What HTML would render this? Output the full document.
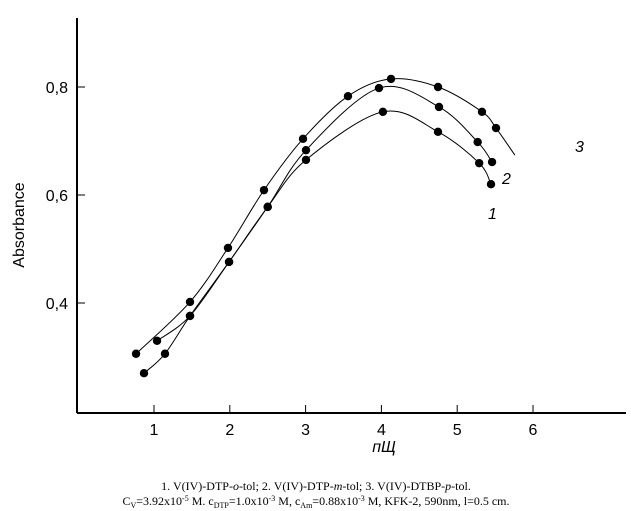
<!DOCTYPE html>
<html><head><meta charset="utf-8"><style>
html,body{margin:0;padding:0;background:#fff;}
svg{display:block;}
.t{font-family:"Liberation Sans",sans-serif;font-size:16px;fill:#000;}
.c{font-family:"Liberation Serif",serif;font-size:12px;fill:#000;}
</style></head><body>
<svg id="ch" width="631" height="511">
<line x1="77" y1="18" x2="77" y2="413" stroke="#000" stroke-width="2"/>
<line x1="77" y1="413" x2="626" y2="413" stroke="#000" stroke-width="2"/>
<text class="t" transform="translate(24,225) rotate(-90)" text-anchor="middle">Absorbance</text>
<text class="t" x="384" y="452" text-anchor="middle" font-style="italic" font-size="18">пЩ</text>
<text class="t" x="575" y="152" font-style="italic">3</text>
<text class="t" x="502" y="184" font-style="italic">2</text>
<text class="t" x="488" y="219" font-style="italic">1</text>
<text class="c" x="316" y="490" text-anchor="middle">1. V(IV)-DTP-<tspan font-style="italic">o</tspan>-tol; 2. V(IV)-DTP-<tspan font-style="italic">m</tspan>-tol; 3. V(IV)-DTBP-<tspan font-style="italic">p</tspan>-tol.</text>
<text class="c" x="316" y="505" text-anchor="middle">C<tspan font-size="8" dy="3">V</tspan><tspan dy="-3">=3.92x10</tspan><tspan font-size="8" dy="-4">-5</tspan><tspan dy="4"> M. c</tspan><tspan font-size="8" dy="3">DTP</tspan><tspan dy="-3">=1.0x10</tspan><tspan font-size="8" dy="-4">-3</tspan><tspan dy="4"> M, c</tspan><tspan font-size="8" dy="3">Am</tspan><tspan dy="-3">=0.88x10</tspan><tspan font-size="8" dy="-4">-3</tspan><tspan dy="4"> M, KFK-2, 590nm, l=0.5 cm.</tspan></text>
<g id="ticks"></g><g id="lines"></g><g id="pts"></g>
</svg>
<script>
const xTicks=[1,2,3,4,5,6];
const yTicks=[0.4,0.6,0.8];
const yTickLabels=["0,4","0,6","0,8"];
const pH1=[0.868,1.145,1.475,1.99,2.50,3.005,4.02,4.747,5.29,5.446];
const abs1=[0.270,0.306,0.376,0.476,0.578,0.665,0.754,0.717,0.659,0.620];
const pH2=[1.04,1.475,1.99,2.50,3.005,3.968,4.76,5.27,5.46];
const abs2=[0.330,0.376,0.476,0.578,0.683,0.798,0.763,0.698,0.661];
const pH3=[0.763,1.475,1.976,2.451,2.966,3.559,4.127,4.747,5.327,5.512,5.76];
const abs3=[0.306,0.402,0.502,0.609,0.704,0.783,0.815,0.800,0.754,0.724,0.674];
const X=v=>154+(v-1)*75.8;
const Y=v=>87-(v-0.8)*540;
const NS="http://www.w3.org/2000/svg";
const tg=document.getElementById('ticks');
xTicks.forEach(v=>{
 const l=document.createElementNS(NS,'line');
 l.setAttribute('x1',X(v));l.setAttribute('x2',X(v));l.setAttribute('y1',405);l.setAttribute('y2',413);l.setAttribute('stroke','#000');
 
 
 tg.appendChild(l);
 const t=document.createElementNS(NS,'text');
 t.setAttribute('class','t');t.setAttribute('x',X(v));t.setAttribute('y',435);t.setAttribute('text-anchor','middle');t.textContent=v;
 
 
 tg.appendChild(t);
});
yTicks.forEach((v,i)=>{
 const l=document.createElementNS(NS,'line');
 l.setAttribute('x1',77);l.setAttribute('x2',85);l.setAttribute('y1',Y(v));l.setAttribute('y2',Y(v));l.setAttribute('stroke','#000');
 
 
 tg.appendChild(l);
 const t=document.createElementNS(NS,'text');
 t.setAttribute('class','t');t.setAttribute('x',68);t.setAttribute('y',Y(v)+6);t.setAttribute('text-anchor','end');t.textContent=yTickLabels[i];
 
 
 tg.appendChild(t);
});
function path(xs,ys){
 const p=xs.map((x,i)=>[X(x),Y(ys[i])]);
 let d=`M${p[0][0]},${p[0][1]}`;
 for(let i=0;i<p.length-1;i++){
  const p0=p[i-1]||p[i],p1=p[i],p2=p[i+1],p3=p[i+2]||p2;
  d+=` C${p1[0]+(p2[0]-p0[0])/6},${p1[1]+(p2[1]-p0[1])/6} ${p2[0]-(p3[0]-p1[0])/6},${p2[1]-(p3[1]-p1[1])/6} ${p2[0]},${p2[1]}`;
 }
 return d;
}
const lg=document.getElementById('lines'),pg=document.getElementById('pts');
[[pH1,abs1,1,10],[pH2,abs2,2,9],[pH3,abs3,3,10]].forEach(([xs,ys,n,np])=>{
 const pa=document.createElementNS(NS,'path');
 pa.setAttribute('d',path(xs,ys));pa.setAttribute('fill','none');pa.setAttribute('stroke','#000');pa.setAttribute('stroke-width','1');
 
 
 lg.appendChild(pa);
 for(let i=0;i<np;i++){
  const c=document.createElementNS(NS,'circle');
  c.setAttribute('cx',X(xs[i]));c.setAttribute('cy',Y(ys[i]));c.setAttribute('r',4.2);c.setAttribute('fill','#000');
  
  
  pg.appendChild(c);
 }
});
</script>
</body></html>
